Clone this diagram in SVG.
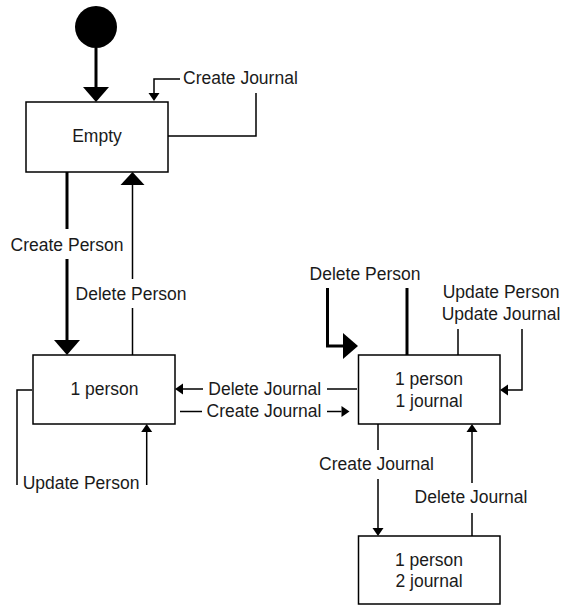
<svg xmlns="http://www.w3.org/2000/svg" width="564" height="605" viewBox="0 0 564 605">
<style>
  .node rect { fill: #ffffff; stroke: #000000; stroke-width: 1.5; }
  text { font-family: "Liberation Sans", Arial, sans-serif; font-size: 17.5px; fill: #1a1a1a; }
  .mid { text-anchor: middle; }
  .thin { fill: none; stroke: #000000; stroke-width: 1.5; }
  .thick { fill: none; stroke: #000000; stroke-width: 3; }
</style>
<defs>
  <marker id="big" markerUnits="userSpaceOnUse" viewBox="0 -13 15 26" refX="0" refY="0" markerWidth="15" markerHeight="26" orient="auto" overflow="visible">
    <path d="M0,-13 L15,0 L0,13 Z" fill="#000000"/>
  </marker>
  <marker id="midArrow" markerUnits="userSpaceOnUse" viewBox="0 -12 13 24" refX="0" refY="0" markerWidth="13" markerHeight="24" orient="auto" overflow="visible">
    <path d="M0,-12 L13,0 L0,12 Z" fill="#000000"/>
  </marker>
  <marker id="small" markerUnits="userSpaceOnUse" viewBox="0 -5.5 8 11" refX="0" refY="0" markerWidth="8" markerHeight="11" orient="auto" overflow="visible">
    <path d="M0,-5.5 L8,0 L0,5.5 Z" fill="#000000"/>
  </marker>
</defs>
<rect x="0" y="0" width="564" height="605" fill="#ffffff"/>

<g id="initial" class="node">
  <circle cx="96" cy="27" r="21" fill="#000000"/>
</g>
<g id="empty" class="node">
  <rect x="26" y="102" width="142" height="70"/>
  <text class="mid" x="97" y="142">Empty</text>
</g>
<g id="one-person" class="node">
  <rect x="33" y="355" width="142" height="69"/>
  <text class="mid" x="104.5" y="395">1 person</text>
</g>
<g id="one-person-one-journal" class="node">
  <rect x="358.5" y="355" width="141.5" height="69"/>
  <text class="mid" x="429" y="385">1 person</text>
  <text class="mid" x="429" y="407">1 journal</text>
</g>
<g id="one-person-two-journal" class="node">
  <rect x="358.5" y="536" width="141.5" height="68"/>
  <text class="mid" x="429" y="566">1 person</text>
  <text class="mid" x="429" y="587">2 journal</text>
</g>

<g id="connectors">
  <g id="start-empty">
    <path class="thick" d="M96,48 V87" marker-end="url(#big)"/>
  </g>
  <g id="empty-create-journal">
    <path class="thin" d="M168,136 H256 V93"/>
    <text x="183" y="84">Create Journal</text>
    <path class="thin" d="M180,79 H154 V93" marker-end="url(#small)"/>
  </g>
  <g id="empty-create-person">
    <path class="thick" d="M67,172 V229"/>
    <text class="mid" x="67" y="251">Create Person</text>
    <path class="thick" d="M67,259 V340" marker-end="url(#big)"/>
  </g>
  <g id="oneperson-delete-person">
    <path class="thin" d="M132.5,355 V308"/>
    <text class="mid" x="131" y="300">Delete Person</text>
    <path class="thin" d="M132.5,279 V185" marker-end="url(#midArrow)"/>
  </g>
  <g id="oneperson-update-person">
    <path class="thin" d="M32,390 H17 V485"/>
    <text class="mid" x="81" y="489">Update Person</text>
    <path class="thin" d="M146.7,485 V432" marker-end="url(#small)"/>
  </g>
  <g id="p1j1-delete-journal">
    <path class="thin" d="M357,389 H327"/>
    <text class="mid" x="264.7" y="395">Delete Journal</text>
    <path class="thin" d="M203,389 H183" marker-end="url(#small)"/>
  </g>
  <g id="oneperson-create-journal">
    <path class="thin" d="M180,411.5 H202"/>
    <text class="mid" x="264" y="417">Create Journal</text>
    <path class="thin" d="M327,411.5 H341.5" marker-end="url(#small)"/>
  </g>
  <g id="p1j1-delete-person">
    <path class="thick" d="M407,355 V288"/>
    <text class="mid" x="365" y="280">Delete Person</text>
    <path class="thick" d="M327.5,288 V346 H343" marker-end="url(#big)"/>
  </g>
  <g id="p1j1-update">
    <path class="thin" d="M458,355 V329"/>
    <text class="mid" x="501" y="298">Update Person</text>
    <text class="mid" x="501" y="320">Update Journal</text>
    <path class="thin" d="M522,329 V390 H508" marker-end="url(#small)"/>
  </g>
  <g id="p1j1-create-journal">
    <path class="thin" d="M378,424 V450"/>
    <text class="mid" x="376.5" y="470">Create Journal</text>
    <path class="thin" d="M378,479 V528" marker-end="url(#small)"/>
  </g>
  <g id="p1j2-delete-journal">
    <path class="thin" d="M472,536 V513"/>
    <text class="mid" x="471" y="503">Delete Journal</text>
    <path class="thin" d="M472,483 V432" marker-end="url(#small)"/>
  </g>
</g>
</svg>
